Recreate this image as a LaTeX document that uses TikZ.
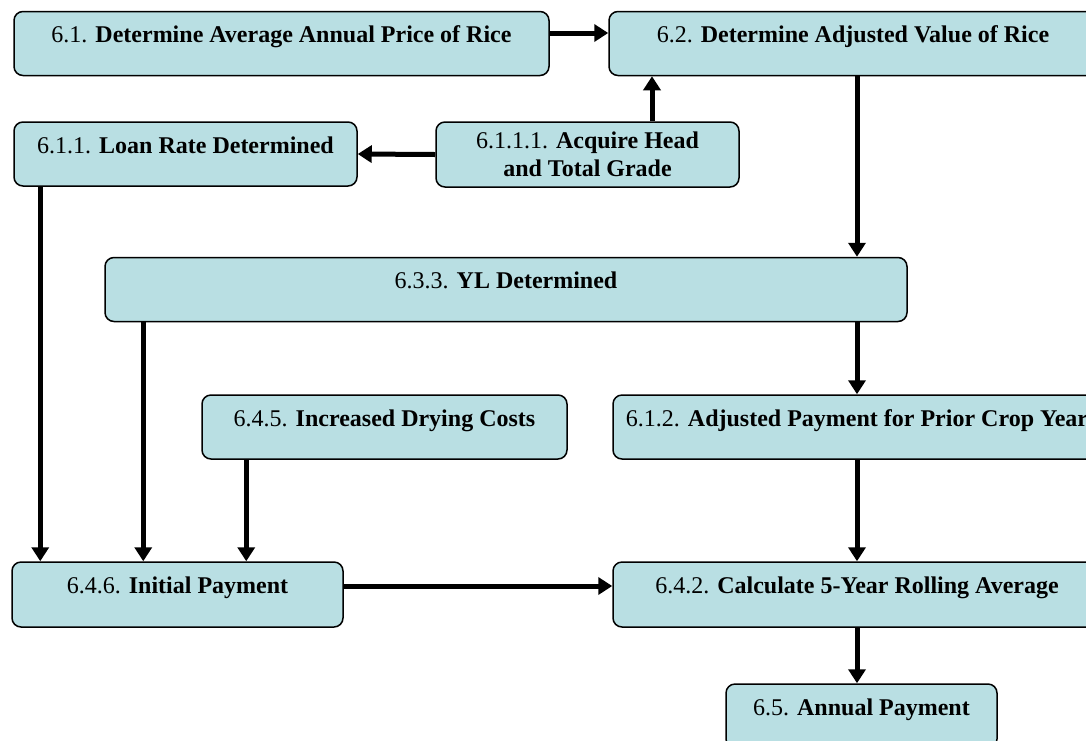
\documentclass[tikz,border=0pt]{standalone}
\usepackage{fontspec}
\setmainfont{Liberation Serif}
\usetikzlibrary{arrows.meta}
\definecolor{boxblue}{RGB}{185,223,227}

\tikzset{
  box/.style={draw, line width=1.5pt, rounded corners=9pt, fill=boxblue,
    minimum height=64pt, inner xsep=4pt, align=center,
    font=\fontsize{24}{28}\selectfont},
  oneline/.style={box, text height=27pt, text depth=29pt, inner ysep=4pt},
  flow/.style={line width=5pt, -{Triangle[length=14pt,width=17pt]}}
}

\begin{document}
\begin{tikzpicture}[x=1pt, y=-1pt]
    \useasboundingbox (0, 0) rectangle (1086, 740);
    \clip (0, 0) rectangle (1086, 740);
    \node [oneline, minimum width=535pt] (avgprice) at (281.5, 43.5) {6.1. \textbf{Determine Average Annual Price of Rice}};
    \node [oneline, minimum width=488pt] (adjvalue) at (853, 43.5) {6.2. \textbf{Determine Adjusted Value of Rice}};
    \node [oneline, minimum width=343pt] (loanrate) at (185.5, 154) {6.1.1. \textbf{Loan Rate Determined}};
    \node [box, minimum width=303pt, minimum height=65pt] (grade) at (587.5, 154.5) {6.1.1.1. \textbf{Acquire Head}\\\textbf{and Total Grade}};
    \node [oneline, minimum width=802pt] (yl) at (506, 289.5) {6.3.3. \textbf{YL Determined}};
    \node [oneline, minimum width=365pt] (drying) at (384.5, 427) {6.4.5. \textbf{Increased Drying Costs}};
    \node [oneline, minimum width=488pt] (priorpay) at (857, 427) {6.1.2. \textbf{Adjusted Payment for Prior Crop Year}};
    \node [oneline, minimum width=331pt, minimum height=65pt] (initpay) at (177.5, 594.5) {6.4.6. \textbf{Initial Payment}};
    \node [oneline, minimum width=488pt, minimum height=65pt] (rolling) at (857, 594.5) {6.4.2. \textbf{Calculate 5-Year Rolling Average}};
    \node [oneline, minimum width=271pt] (annual) at (861.5, 716) {6.5. \textbf{Annual Payment}};
    \draw [flow] ([yshift=10.5pt]avgprice.east) -- ([yshift=10.5pt]adjvalue.west);
    \draw [flow] (grade.west) -- (loanrate.east);
    \draw [flow] ([xshift=64.5pt]grade.north) -- ([xshift=64.5pt]grade.north |- adjvalue.south);
    \draw [flow] (adjvalue.south -| priorpay.north) -- (yl.north -| priorpay.north);
    \draw [flow] (yl.south -| priorpay.north) -- (priorpay.north);
    \draw [flow] (priorpay.south) -- (rolling.north);
    \draw [flow] (rolling.south) -- (annual.north -| rolling.south);
    \draw [flow] ([xshift=27pt]loanrate.south west) -- ([xshift=27pt]loanrate.south west |- initpay.north);
    \draw [flow] ([xshift=39pt]yl.south west) -- ([xshift=39pt]yl.south west |- initpay.north);
    \draw [flow] ([xshift=45pt]drying.south west) -- ([xshift=45pt]drying.south west |- initpay.north);
    \draw [flow] ([yshift=8.5pt]initpay.east) -- ([yshift=8.5pt]initpay.east -| rolling.west);
\end{tikzpicture}
\end{document}
